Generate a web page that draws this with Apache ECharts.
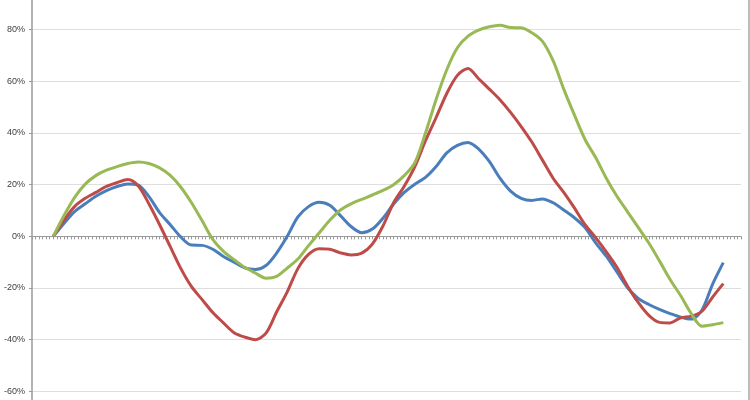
<!DOCTYPE html>
<html><head><meta charset="utf-8">
<script src="https://cdn.jsdelivr.net/npm/echarts@6/dist/echarts.min.js"></script>
<style>html,body{margin:0;padding:0;background:#fff;overflow:hidden}#c{position:absolute;left:0;top:-22px;width:750px;height:465px}</style>
</head><body><div id="c"></div>
<script>
const period = [6,9,12,15,18,21,24,27,30,33,36,39,42,45,48,51,54,57,60,63,66,69,72,75,78,81,84,87,90,93,96,99,102,105,108,111,114,117,120,123,126,129,132,135,138,141,144,147,150,153,156,159,162,165,168,171,174,177,180,183,186,189,192,195];
const blue = [0,5,9.6,12.6,15.5,17.7,19.3,20.3,19.8,15.4,9.2,4.5,-0.3,-3.4,-3.5,-5,-7.8,-10,-12.2,-12.8,-11.3,-6.5,0,7.5,11.5,13.2,12,8,3.8,1.4,2.8,7,12.5,17,20.2,22.8,27,32.3,35.2,36.3,33.8,29,22.5,17.5,14.7,13.9,14.5,13,10.2,7.2,3.4,-2.5,-7.7,-13.8,-19.9,-24,-26.4,-28.3,-29.9,-31.3,-32,-28.5,-18.5,-10.2];
const red = [0,6.2,11.5,14.7,17,19.3,20.8,22,19.5,12.5,4.5,-4,-12.5,-19.5,-24.5,-29.5,-33.5,-37.3,-39,-40,-37.5,-29.3,-21.5,-12.5,-7,-4.8,-5,-6.4,-7.2,-6.5,-3,4,13,19.4,27,37,46,55.3,62.3,65,61,57,52.9,48,42.5,36.5,29.5,22.5,17,11,4.5,-0.5,-6,-12,-19.3,-25.6,-30.6,-33.3,-33.5,-31.5,-30.9,-29,-23.5,-18.3];
const green = [0,8,15,20.2,23.5,25.6,27,28.2,28.8,28.2,26.5,23.6,19,13,6,-1.2,-5.8,-9,-12,-14.2,-16.2,-15.5,-12.3,-8.8,-3.6,1.3,6.2,10.2,12.6,14.3,16,17.8,20,23.5,28.5,40,53,64.5,73,77.5,79.8,81.1,81.7,80.8,80.7,78.8,75.5,68,57,47,37.5,30.5,22.5,15.5,9.5,3.5,-2.6,-9.5,-16.7,-23,-30,-34.8,-34.2,-33.4];
const yTicks = {min: -80, max: 100, step: 20};

function pairs(ys){ return ys.map((v,i)=>[period[i], v]); }
const chart = echarts.init(document.getElementById('c'));
const mk = (name, ys, color) => ({
  name, type: 'line', data: pairs(ys), smooth: 0.3, showSymbol: false, silent: true,
  lineStyle: {color, width: 3}, itemStyle: {color}, z: 3
});
chart.setOption({
  animation: false,
  backgroundColor: '#fff',
  grid: {left: 32, right: 9, top: 0, bottom: 0, containLabel: false, outerBoundsMode: 'none'},
  xAxis: {
    type: 'value', min: 0, max: 200, interval: 1,
    axisLine: {onZero: true, lineStyle: {color: '#9a9a9a', width: 1}},
    axisTick: {show: true, length: 3, lineStyle: {color: '#9a9a9a'}},
    axisLabel: {show: false}, splitLine: {show: false}
  },
  yAxis: {
    type: 'value', min: yTicks.min, max: yTicks.max, interval: yTicks.step,
    axisLine: {show: true, lineStyle: {color: '#9a9a9a', width: 1.5}},
    axisTick: {show: true, length: 3, lineStyle: {color: '#9a9a9a'}},
    axisLabel: {formatter: '{value}%', color: '#404040', fontSize: 9, fontFamily: 'Liberation Sans, Arial, sans-serif', margin: 7},
    splitLine: {lineStyle: {color: '#dedede', width: 1}}
  },
  graphic: [{type: 'line', shape: {x1: 749, y1: 0, x2: 749, y2: 465}, style: {stroke: '#a6a6a6', lineWidth: 1.5}}],
  series: [mk('A', blue, '#4a7ebb'), mk('B', red, '#be4b48'), mk('C', green, '#98b954')]
});
</script></body></html>
